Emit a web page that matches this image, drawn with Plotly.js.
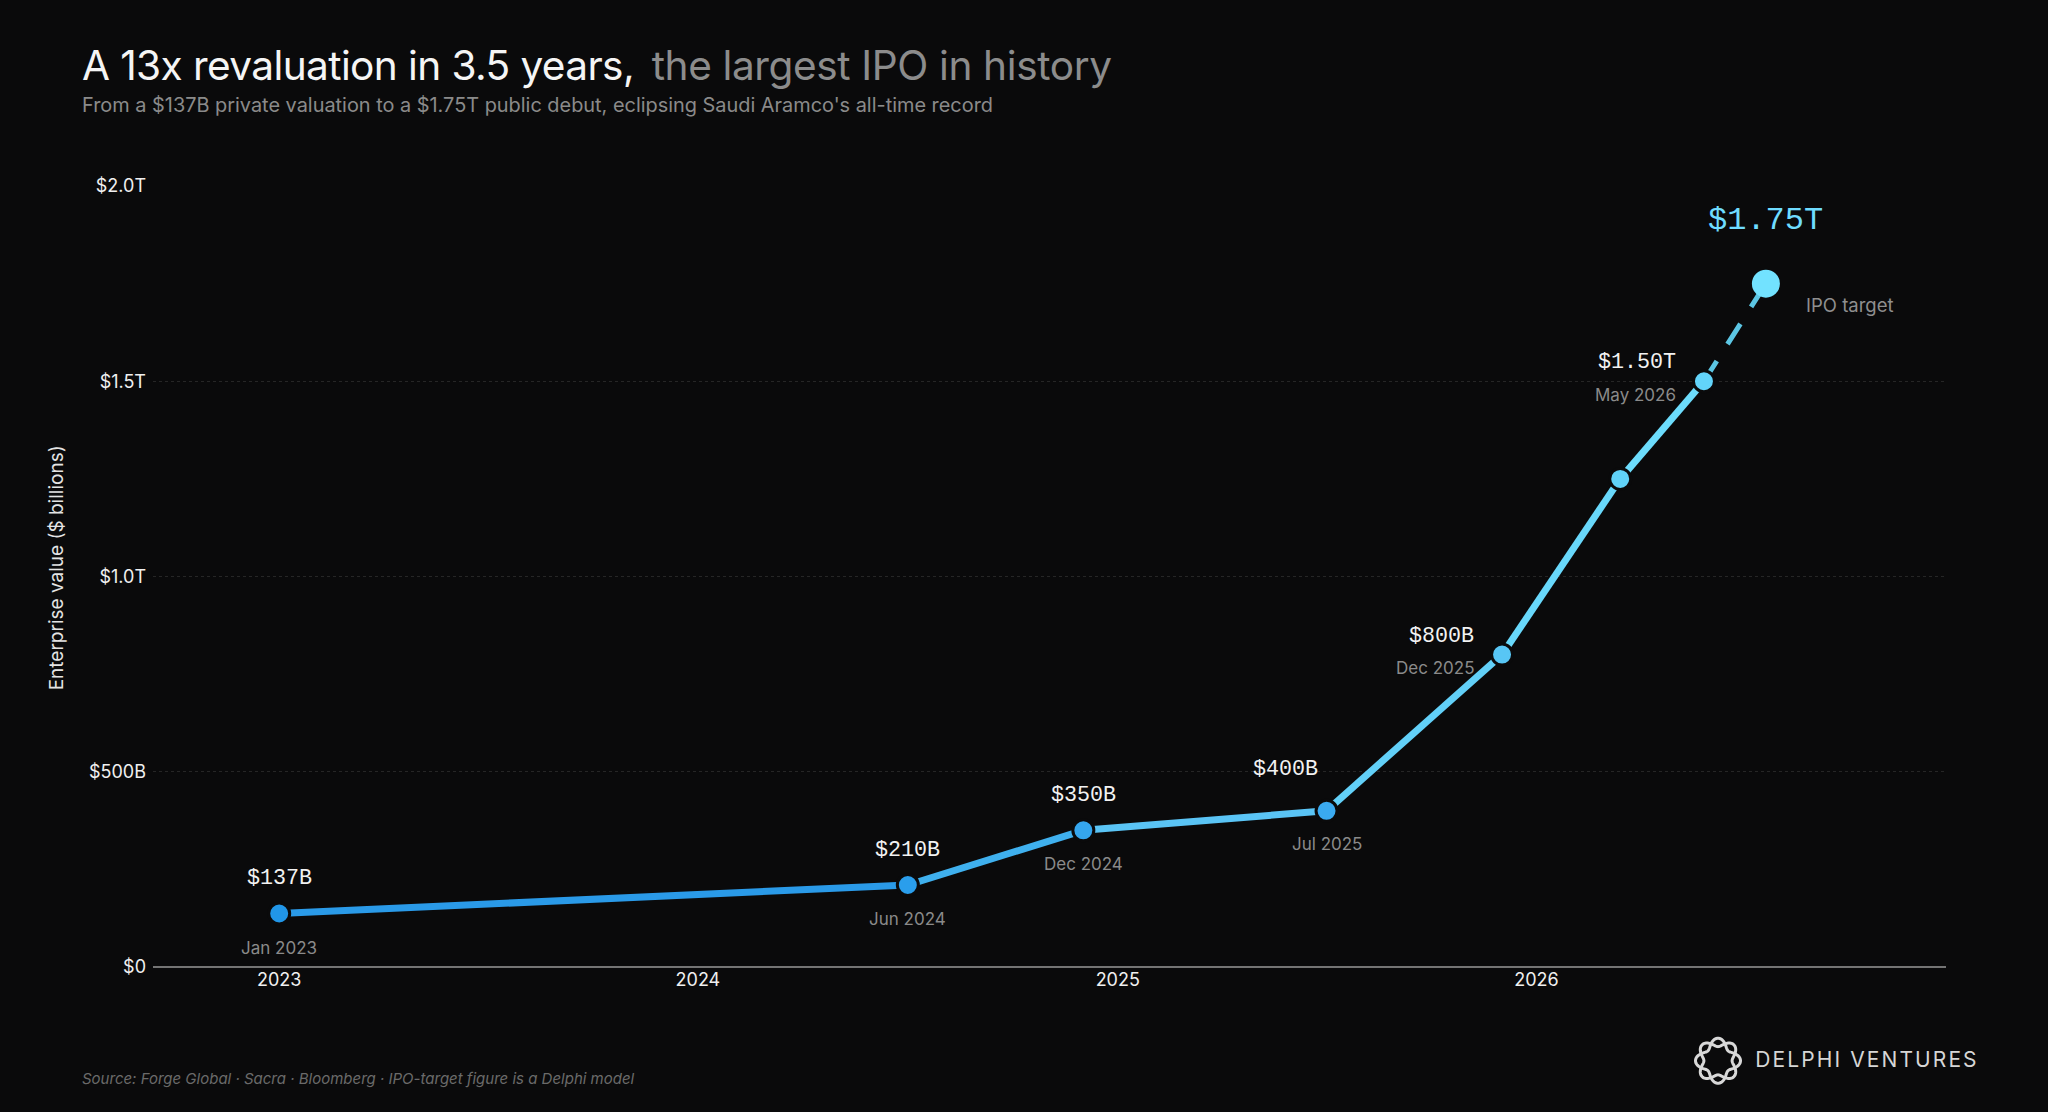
<!DOCTYPE html>
<html><head><meta charset="utf-8">
<script src="https://cdn.plot.ly/plotly-3.0.1.min.js"></script>
<style>
html,body{margin:0;padding:0;background:#0a0a0b;}
#chart{width:2048px;height:1112px;}
.gtitle{letter-spacing:-0.6px;}
</style></head><body><div id="chart"></div>
<script>
// Data
const dates = ["2023-01-01","2024-07-02","2024-12-02","2025-07-02","2025-12-02","2026-03-15","2026-05-27","2026-07-20"];
const values = [137,210,350,400,800,1250,1500,1750];
const valueLabels = ["$137B","$210B","$350B","$400B","$800B","","$1.50T","$1.75T"];
const dateLabels = ["Jan 2023","Jun 2024","Dec 2024","Jul 2025","Dec 2025","","May 2026",""];
const yTickVals = [0,500,1000,1500,2000];
const yTickText = ["$0","$500B","$1.0T","$1.5T","$2.0T"];
const xTickVals = ["2023-01-01","2024-01-01","2025-01-01","2026-01-01"];
const xTickText = ["2023","2024","2025","2026"];
const segmentColors = ["#2a9ae8","#3fb0ee","#5ac4f5","#62d0f8","#68d8fb","#6cdcfc","#5cc6e4"];
const markerColors = ["#2196e8","#2a9eec","#35a6ee","#3aaaf0","#58c6f5","#60d2f8","#62d4fa","#72e2ff"];

const SANS = "Inter, 'Liberation Sans', sans-serif";
const MONO = "'Liberation Mono', monospace";
const BG = "#0a0a0b";

const traces = [];
for (let i=0;i<dates.length-1;i++){
  const last = i===dates.length-2;
  traces.push({x:[dates[i],dates[i+1]],y:[values[i],values[i+1]],mode:"lines",hoverinfo:"skip",showlegend:false,
    line:{color:segmentColors[i],width:last?5:7,dash:last?"24px,20px":"solid"}});
}
const lastIdx = dates.length-1;
traces.push({x:dates,y:values,mode:"markers",showlegend:false,hoverinfo:"skip",
  marker:{opacity:1,color:markerColors,size:dates.map((d,i)=>i===lastIdx?28:21),
    line:{color:dates.map((d,i)=>i===lastIdx?markerColors[i]:BG),width:dates.map((d,i)=>i===lastIdx?0:3)}}});

// label offsets (px)
const vOff = [[0,35,"center"],[0,35,"center"],[0,34.5,"center"],[-41,41,"center"],[-26,18,"right"],null,[-26,19,"right"],[0,63,"center"]];
const dOff = [[0,-34.5,"center"],[0,-34,"center"],[0,-34,"center"],[0,-33,"center"],[-26,-13,"right"],null,[-26,-14,"right"],null];
const ann = [];
dates.forEach((d,i)=>{
  if (valueLabels[i]) ann.push({x:d,y:values[i],xref:"x",yref:"y",text:valueLabels[i],showarrow:false,
    xanchor:vOff[i][2],yanchor:"middle",xshift:vOff[i][0],yshift:vOff[i][1],
    font:{family:MONO,size:i===7?32:21.7,color:i===7?"#6fdcff":"#f2f2f2"}});
  if (dateLabels[i]) ann.push({x:d,y:values[i],xref:"x",yref:"y",text:dateLabels[i],showarrow:false,
    xanchor:dOff[i][2],yanchor:"middle",xshift:dOff[i][0],yshift:dOff[i][1],
    font:{family:SANS,size:17,color:"#8a8a8a"}});
});
ann.push({x:dates[7],y:values[7],xref:"x",yref:"y",text:"IPO target",showarrow:false,xanchor:"left",yanchor:"middle",xshift:38.5,yshift:-21,
  font:{family:SANS,size:18.5,color:"#8f8f8f"}});
const W=2048,H=1112;
ann.push({xref:"paper",yref:"paper",x:(79.5-153)/1793,y:1+(186.3-105)/780.7,xanchor:"left",yanchor:"middle",showarrow:false,
  text:"From a $137B private valuation to a $1.75T public debut, eclipsing Saudi Aramco's all-time record",
  font:{family:SANS,size:19.9,color:"#8a8a8a"}});
ann.push({xref:"paper",yref:"paper",x:(79.5-153)/1793,y:-(1078-967)/780.7,xanchor:"left",yanchor:"middle",showarrow:false,
  text:"<i>Source: Forge Global · Sacra · Bloomberg · IPO-target figure is a Delphi model</i>",
  font:{family:SANS,size:15,color:"#6a6a6a"}});
ann.push({xref:"paper",yref:"paper",x:(56.5-153)/1793,y:(967-568)/780.7,xanchor:"center",yanchor:"middle",showarrow:false,textangle:-90,
  text:"Enterprise value ($ billions)",font:{family:SANS,size:19,color:"#e4e4e4"}});
ann.push({xref:"paper",yref:"paper",x:(1769-153)/1793,y:-(1059.5-967)/780.7,xanchor:"left",yanchor:"middle",showarrow:false,
  text:"DELPHI VENTURES",captureevents:false,font:{family:SANS,size:21,color:"#d6d6d6"}});

// logo: two interlaced wavy rings
function ringPath(phase){let s="";for(let k=0;k<=180;k++){const t=k/180*2*Math.PI;const r=18.3+4.2*Math.cos(4*t+phase);
  s+=(k?"L":"M")+(25+r*Math.cos(t)).toFixed(2)+" "+(25+r*Math.sin(t)).toFixed(2);}return s+"Z";}
const logoSvg=`<svg xmlns="http://www.w3.org/2000/svg" viewBox="0 0 50 50" width="50" height="50"><path d="${ringPath(0)}" fill="none" stroke="#d8d8d8" stroke-width="3"/><path d="${ringPath(Math.PI)}" fill="none" stroke="#d8d8d8" stroke-width="3"/></svg>`;

const layout = {
  width:W,height:H,paper_bgcolor:BG,plot_bgcolor:BG,showlegend:false,
  margin:{l:153,r:102,t:186.3,b:145,pad:0},
  title:{text:'A 13x revaluation in 3.5 years,\u00a0\u2009<span style="color:#8c8c8c;letter-spacing:-0.38px">the largest IPO in history</span>',
    x:82/W,xanchor:"left",y:1-66/H,yanchor:"middle",font:{family:SANS,size:40.6,color:"#f5f5f5"}},
  xaxis:{type:"date",range:["2022-09-13","2026-12-24"],tickmode:"array",tickvals:xTickVals,ticktext:xTickText,
    showgrid:false,zeroline:false,showline:false,ticks:"",tickfont:{family:SANS,size:18,color:"#f0f0f0"},automargin:false},
  yaxis:{range:[0,2000],tickmode:"array",tickvals:yTickVals,ticktext:yTickText,showgrid:true,griddash:"3px,3px",
    gridcolor:"#262626",gridwidth:1,zeroline:true,zerolinecolor:"#747474",zerolinewidth:1.5,showline:false,
    ticks:"",ticklabelstandoff:6,tickfont:{family:SANS,size:18,color:"#f0f0f0"},automargin:false},
  annotations:ann,
  images:[{source:"data:image/svg+xml;utf8,"+encodeURIComponent(logoSvg),xref:"paper",yref:"paper",
    x:(1693-153)/1793,y:-(1035.7-967)/780.7,sizex:50/1793,sizey:50/780.7,xanchor:"left",yanchor:"top",layer:"above"}]
};
Plotly.newPlot("chart",traces,layout,{displayModeBar:false,staticPlot:true}).then(()=>{
  document.querySelectorAll(".annotation-text").forEach(t=>{
    if (t.textContent==="DELPHI VENTURES") t.style.letterSpacing="2.1px";
  });
});
</script></body></html>
